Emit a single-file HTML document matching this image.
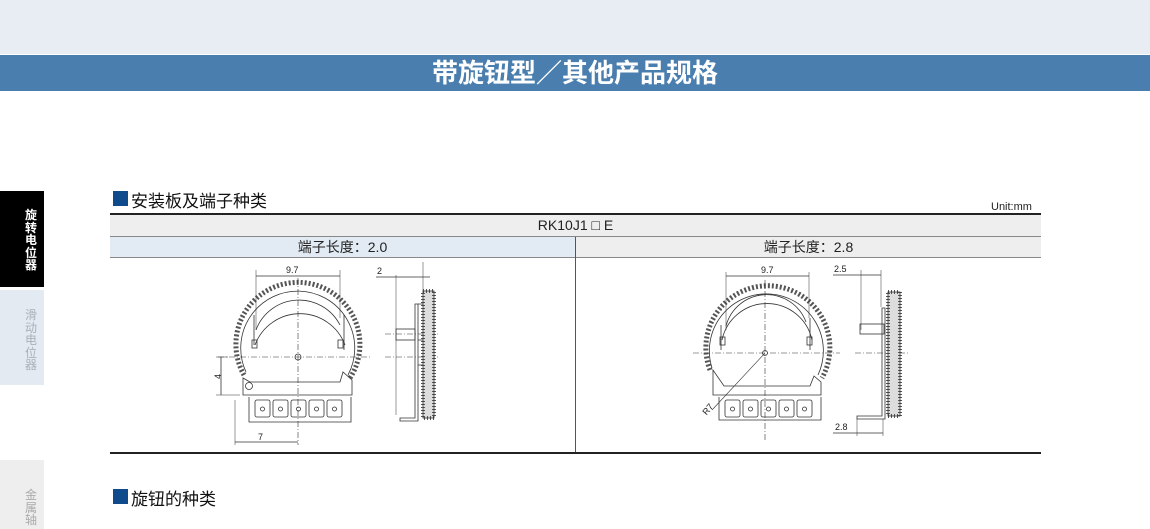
<!DOCTYPE html>
<html><head><meta charset="utf-8"><style>
html,body{margin:0;padding:0;background:#fff;}
body{width:1150px;height:529px;position:relative;overflow:hidden;font-family:"Liberation Sans","Noto Sans CJK SC",sans-serif;}
.abs{position:absolute;}
</style></head><body>
<div class="abs" style="left:0;top:0;width:1150px;height:54px;background:#e8edf3;"></div>
<div class="abs" style="left:0;top:55px;width:1150px;height:36px;background:#4a7eae;color:#fff;font-size:26px;font-weight:bold;text-align:center;line-height:36px;">带旋钮型／其他产品规格</div>

<div class="abs" style="left:0;top:191px;width:44px;height:96px;background:#000;"></div>
<div class="abs" style="left:25px;top:209px;width:12px;color:#fff;font-size:12px;font-weight:bold;line-height:12.5px;">旋转电位器</div>
<div class="abs" style="left:0;top:290px;width:44px;height:95px;background:#e3eaf2;"></div>
<div class="abs" style="left:25px;top:309px;width:12px;color:#a8b0b8;font-size:12px;line-height:12.5px;">滑动电位器</div>
<div class="abs" style="left:0;top:460px;width:44px;height:69px;background:#eeeeee;"></div>
<div class="abs" style="left:25px;top:489px;width:12px;color:#aaa;font-size:12px;line-height:12.5px;">金属轴</div>

<div class="abs" style="left:113px;top:191px;width:15px;height:15px;background:#0e4a8c;"></div>
<div class="abs" style="left:131px;top:187px;font-size:17px;color:#111;">安装板及端子种类</div>
<div class="abs" style="left:991px;top:201px;font-size:11px;color:#222;">Unit:mm</div>

<div class="abs" style="left:110px;top:213px;width:931px;height:2px;background:#222;"></div>
<div class="abs" style="left:110px;top:215px;width:931px;height:21px;background:#eeeeee;font-size:14px;text-align:center;line-height:21px;color:#222;">RK10J1 □ E</div>
<div class="abs" style="left:110px;top:236px;width:931px;height:1px;background:#888;"></div>
<div class="abs" style="left:110px;top:237px;width:465px;height:20px;background:#e2eaf3;font-size:14px;text-align:center;line-height:20px;color:#222;">端子长度：2.0</div>
<div class="abs" style="left:576px;top:237px;width:465px;height:20px;background:#eeeeee;font-size:14px;text-align:center;line-height:20px;color:#222;">端子长度：2.8</div>
<div class="abs" style="left:110px;top:257px;width:931px;height:1px;background:#888;"></div>
<div class="abs" style="left:575px;top:237px;width:1px;height:216px;background:#555;"></div>
<div class="abs" style="left:110px;top:452px;width:931px;height:2px;background:#222;"></div>

<div class="abs" style="left:113px;top:489px;width:15px;height:15px;background:#0e4a8c;"></div>
<div class="abs" style="left:131px;top:485px;font-size:17px;color:#111;">旋钮的种类</div>

<svg class="abs" style="left:0;top:0" width="1150" height="529" font-family="Liberation Sans,sans-serif" font-size="9" fill="none" stroke="#333" stroke-width="0.8">
<!-- LEFT FRONT -->
<g>
<path d="M244,375 A62,62 0 1 1 350,378" stroke="#555" stroke-width="5" stroke-dasharray="2 2"/>
<path d="M246,372 A57,57 0 1 1 348,375"/>
<path d="M255,345 A48,48 0 0 1 345,345 M256,330 A46,46 0 0 1 340,325"/>
<path d="M254,315 L254,345 M344,315 L344,350"/>
<rect x="252" y="340" width="5" height="8"/><rect x="338" y="340" width="5" height="8"/>
<path d="M243,378 L243,395 L352,395 L352,380 L343,372 L340,382 L250,382 Z"/>
<circle cx="249" cy="386" r="3.5"/>
<circle cx="298" cy="357" r="3"/>
<path d="M249,397 L249,422 L351,422 L351,397"/>
<g>
<rect x="255" y="400" width="15" height="17" rx="2"/><circle cx="262.5" cy="409" r="2"/>
<rect x="273" y="400" width="15" height="17" rx="2"/><circle cx="280.5" cy="409" r="2"/>
<rect x="291" y="400" width="15" height="17" rx="2"/><circle cx="298.5" cy="409" r="2"/>
<rect x="309" y="400" width="15" height="17" rx="2"/><circle cx="316.5" cy="409" r="2"/>
<rect x="327" y="400" width="15" height="17" rx="2"/><circle cx="334.5" cy="409" r="2"/>
</g>
<g stroke-dasharray="6 2 1 2" stroke-width="0.6">
<line x1="298" y1="278" x2="298" y2="445"/>
<line x1="218" y1="357" x2="370" y2="357"/>
<line x1="385" y1="357" x2="440" y2="357"/>
<line x1="385" y1="334" x2="440" y2="334"/>
</g>
<line x1="256" y1="270" x2="256" y2="330" stroke-width="0.5"/>
<line x1="340" y1="270" x2="340" y2="318" stroke-width="0.5"/>
<line x1="256" y1="276" x2="340" y2="276"/>
<text x="286" y="273" fill="#222" stroke="none">9.7</text>
<line x1="216" y1="357" x2="228" y2="357" stroke-width="0.5"/>
<line x1="216" y1="395" x2="240" y2="395" stroke-width="0.5"/>
<line x1="221" y1="357" x2="221" y2="395"/>
<text x="218" y="382" fill="#222" stroke="none" transform="rotate(-90 218 379)">4</text>
<line x1="235" y1="400" x2="235" y2="445" stroke-width="0.5"/>
<line x1="235" y1="442" x2="298" y2="442"/>
<text x="258" y="440" fill="#222" stroke="none">7</text>
<!-- side -->
<line x1="396" y1="275" x2="396" y2="415" stroke-width="0.5"/>
<line x1="423" y1="262" x2="423" y2="292" stroke-width="0.5"/>
<line x1="376" y1="277" x2="430" y2="277"/>
<text x="377" y="274" fill="#222" stroke="none">2</text>
<rect x="423" y="291" width="11" height="127" fill="#ddd" stroke="#555" stroke-width="4" stroke-dasharray="1 2"/>
<rect x="423" y="291" width="11" height="127"/>
<path d="M415,304 L415,418 L400,418 L400,421 L418,421 L418,304 Z"/>
<path d="M418,304 L423,304 M418,340 L423,340 M418,365 L423,365"/>
<rect x="396" y="329" width="19" height="11"/>
</g>
<!-- RIGHT FRONT -->
<g>
<path d="M710,370 A62,62 0 1 1 822,378" stroke="#555" stroke-width="5" stroke-dasharray="2 2"/>
<path d="M712,368 A57,57 0 1 1 818,375"/>
<path d="M722,340 A46,46 0 0 1 812,340 M726,326 A42,42 0 0 1 806,322"/>
<path d="M721,325 L721,350 M810,318 L810,350"/>
<rect x="720" y="337" width="5" height="8"/><rect x="807" y="337" width="5" height="8"/>
<path d="M713,370 L713,395 L821,395 L821,382 L814,376 L810,386 L724,386 Z"/>
<circle cx="765" cy="353" r="2.5"/>
<path d="M719,397 L719,420 L821,420 L821,397"/>
<g>
<rect x="725" y="400" width="15" height="17" rx="2"/><circle cx="732.5" cy="409" r="2"/>
<rect x="743" y="400" width="15" height="17" rx="2"/><circle cx="750.5" cy="409" r="2"/>
<rect x="761" y="400" width="15" height="17" rx="2"/><circle cx="768.5" cy="409" r="2"/>
<rect x="779" y="400" width="15" height="17" rx="2"/><circle cx="786.5" cy="409" r="2"/>
<rect x="797" y="400" width="15" height="17" rx="2"/><circle cx="804.5" cy="409" r="2"/>
</g>
<g stroke-dasharray="6 2 1 2" stroke-width="0.6">
<line x1="765" y1="280" x2="765" y2="440"/>
<line x1="693" y1="353" x2="840" y2="353"/>
<line x1="855" y1="353" x2="910" y2="353"/>
</g>
<line x1="765" y1="353" x2="712" y2="410" stroke-width="0.6"/>
<text x="702" y="414" fill="#222" stroke="none" transform="rotate(-50 706 410)">R7</text>
<line x1="726" y1="272" x2="726" y2="330" stroke-width="0.5"/>
<line x1="809" y1="272" x2="809" y2="318" stroke-width="0.5"/>
<line x1="726" y1="276" x2="809" y2="276"/>
<text x="761" y="273" fill="#222" stroke="none">9.7</text>
<!-- side -->
<line x1="861" y1="270" x2="861" y2="330" stroke-width="0.5"/>
<line x1="881" y1="270" x2="881" y2="307" stroke-width="0.5"/>
<line x1="833" y1="275" x2="881" y2="275"/>
<text x="834" y="272" fill="#222" stroke="none">2.5</text>
<rect x="888" y="292" width="12" height="124" fill="#ddd" stroke="#555" stroke-width="4" stroke-dasharray="1 2"/>
<rect x="888" y="292" width="12" height="124"/>
<path d="M882,308 L882,416 L857,416 L857,419 L885,419 L885,308 Z"/>
<rect x="860" y="324" width="24" height="10"/>
<line x1="857" y1="419" x2="857" y2="436" stroke-width="0.5"/>
<line x1="883" y1="419" x2="883" y2="436" stroke-width="0.5"/>
<line x1="833" y1="433" x2="883" y2="433"/>
<text x="835" y="430" fill="#222" stroke="none">2.8</text>
</g>
</svg>
</body></html>
